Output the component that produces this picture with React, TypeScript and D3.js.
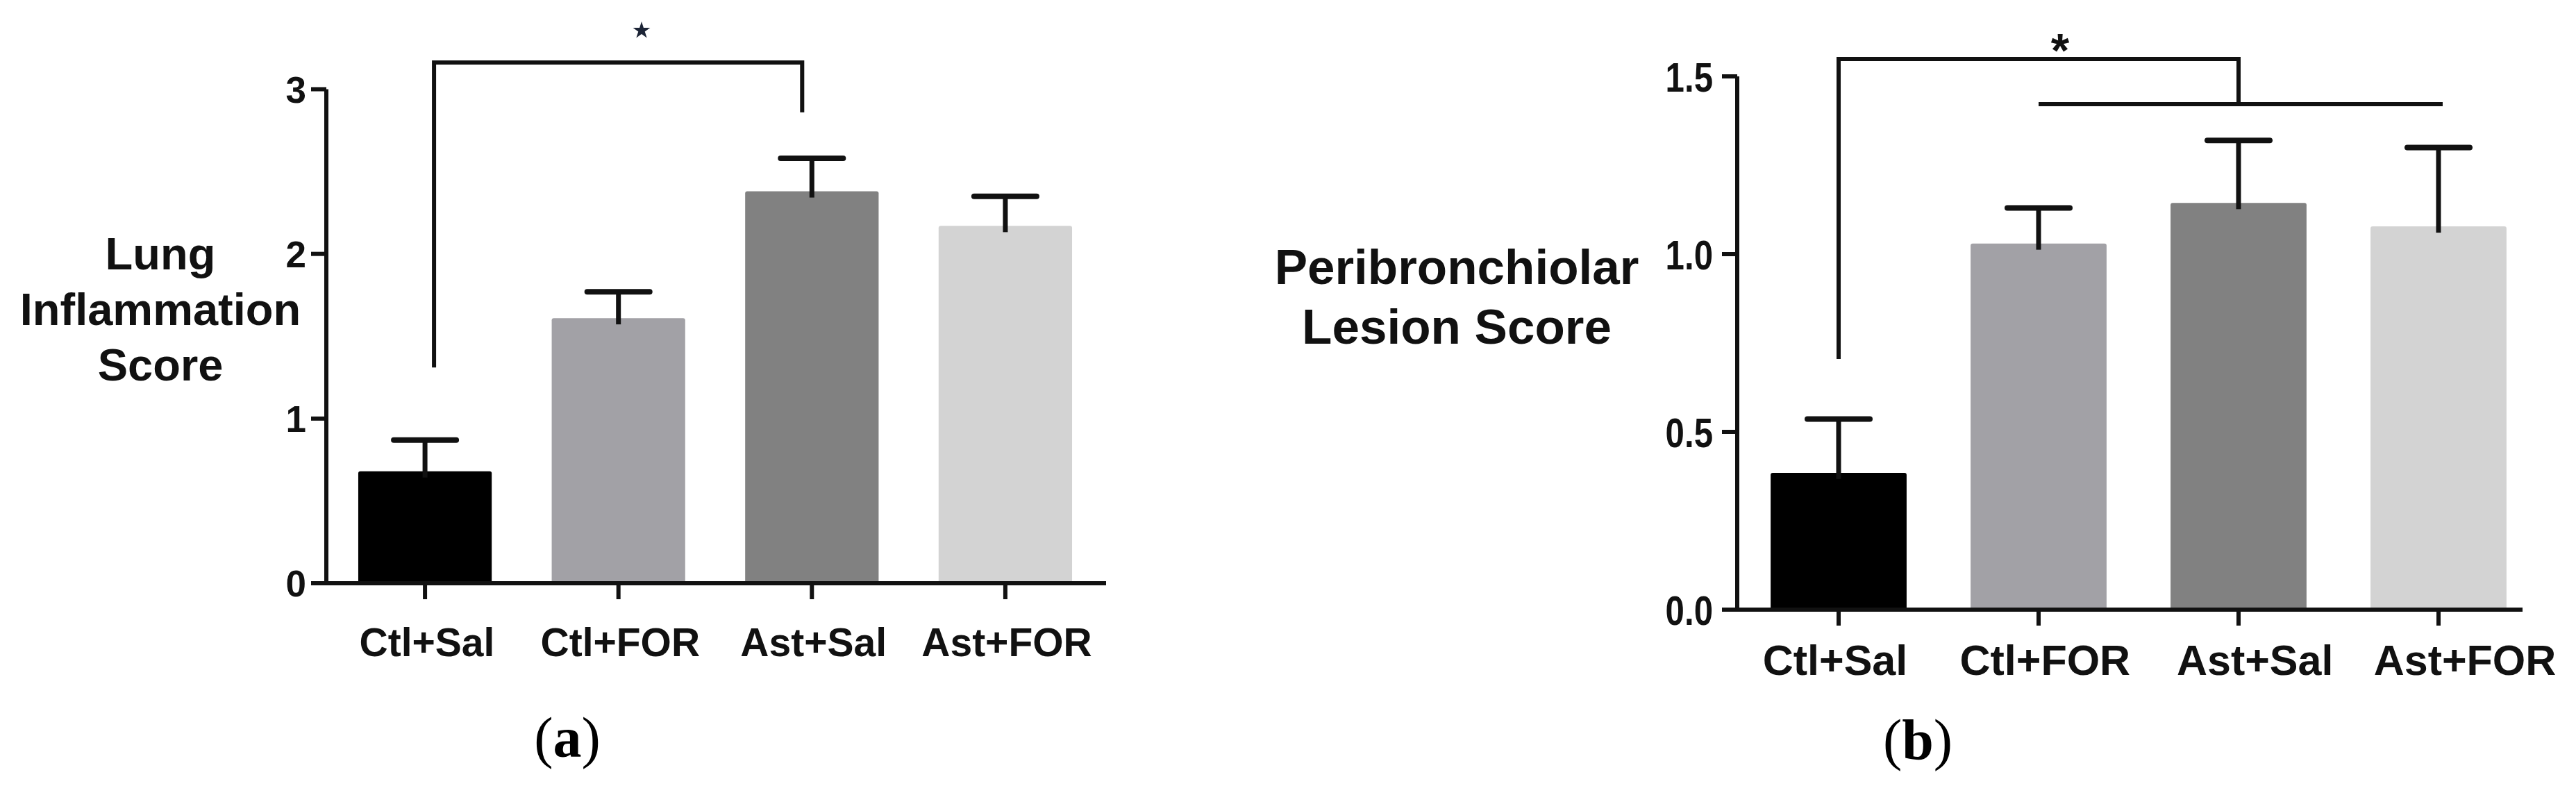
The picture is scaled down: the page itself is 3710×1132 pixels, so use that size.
import React from 'react';
import * as d3 from 'd3';

const categories = ['Ctl+Sal', 'Ctl+FOR', 'Ast+Sal', 'Ast+FOR'];
const barColors = ['#000000', '#a2a1a6', '#818181', '#d3d3d3'];

const inflammationMean = [0.68, 1.61, 2.38, 2.17];
const inflammationUpper = [0.87, 1.77, 2.58, 2.35];
const inflammationTicks = [0, 1, 2, 3];
const inflammationTickLabels = ['0', '1', '2', '3'];
const inflammationTitle = ['Lung', 'Inflammation', 'Score'];

const lesionMean = [0.385, 1.03, 1.144, 1.078];
const lesionUpper = [0.536, 1.13, 1.32, 1.3];
const lesionTicks = [0, 0.5, 1.0, 1.5];
const lesionTickLabels = ['0.0', '0.5', '1.0', '1.5'];
const lesionTitle = ['Peribronchiolar', 'Lesion Score'];

const FONT = '"Liberation Sans", Arial, Helvetica, sans-serif';
const SERIF = '"Liberation Serif", "Times New Roman", serif';
const INK = '#111111';

function Bars({ x, y, means, uppers }) {
  const bw = x.bandwidth();
  return (
    <g>
      {categories.map((c, i) => {
        const cx = x(c) + bw / 2;
        return (
          <g key={c}>
            <rect x={x(c)} y={y(means[i])} width={bw} height={y(0) - y(means[i])} fill={barColors[i]} rx={3} />
            <line x1={cx} x2={cx} y1={y(means[i]) + 9} y2={y(uppers[i])} stroke={INK} strokeWidth={7} />
            <line x1={cx - 45} x2={cx + 45} y1={y(uppers[i])} y2={y(uppers[i])} stroke={INK} strokeWidth={8} strokeLinecap="round" />
          </g>
        );
      })}
    </g>
  );
}

function Axes({ x, y, ticks, tickLabels, axisRight, tickFont, tickScaleX, tickLabelX }) {
  const x0 = x.range()[0];
  const y0 = y(0);
  const yTop = y(ticks[ticks.length - 1]);
  const bw = x.bandwidth();
  return (
    <g>
      <line x1={x0} x2={x0} y1={y0} y2={yTop} stroke={INK} strokeWidth={6} />
      <line x1={x0 - 22} x2={axisRight} y1={y0} y2={y0} stroke={INK} strokeWidth={6} />
      {ticks.map((t, i) => (
        <g key={t}>
          <line x1={x0 - 22} x2={x0} y1={y(t)} y2={y(t)} stroke={INK} strokeWidth={6} />
          <g transform={`translate(${tickLabelX},${y(t)}) scale(${tickScaleX},1)`}>
            <text x={0} y={0} dy="0.36em" textAnchor="end" fontFamily={FONT} fontWeight="bold" fontSize={tickFont} fill="#111">
              {tickLabels[i]}
            </text>
          </g>
        </g>
      ))}
      {categories.map((c) => (
        <line key={c} x1={x(c) + bw / 2} x2={x(c) + bw / 2} y1={y0} y2={y0 + 23} stroke={INK} strokeWidth={6} />
      ))}
    </g>
  );
}

export default function App() {
  // Panel (a)
  const xA = d3.scaleBand().domain(categories).range([470, 1590]).paddingInner(0.31).paddingOuter(0.165);
  const yA = d3.scaleLinear().domain([0, 3]).range([840, 128.5]);
  const labelA = d3.scalePoint().domain(categories).range([615, 1450]);

  // Panel (b)
  const xB = d3.scaleBand().domain(categories).range([2502, 3658]).paddingInner(0.32).paddingOuter(0.167);
  const yB = d3.scaleLinear().domain([0, 1.5]).range([878, 110]);
  const labelB = d3.scalePoint().domain(categories).range([2643, 3550]);

  const cA = (c) => xA(c) + xA.bandwidth() / 2;
  const cB = (c) => xB(c) + xB.bandwidth() / 2;

  const starPath = d3.symbol(d3.symbolStar, 190)();

  return (
    <svg width={3710} height={1132} style={{ position: 'absolute', left: 0, top: 0, background: '#fff' }}>
      <rect x={0} y={0} width={3710} height={1132} fill="#fff" />

      {/* ===== Panel (a) ===== */}
      <Bars x={xA} y={yA} means={inflammationMean} uppers={inflammationUpper} />
      <Axes x={xA} y={yA} ticks={inflammationTicks} tickLabels={inflammationTickLabels} axisRight={1593} tickFont={53} tickScaleX={1} tickLabelX={441} />
      {inflammationTitle.map((t, i) => (
        <text key={t} x={231} y={388 + i * 80} textAnchor="middle" fontFamily={FONT} fontWeight="bold" fontSize={65} fill="#111">
          {t}
        </text>
      ))}
      {categories.map((c) => (
        <text key={c} x={labelA(c)} y={945} textAnchor="middle" fontFamily={FONT} fontWeight="bold" fontSize={57} fill="#111">
          {c}
        </text>
      ))}
      {/* significance bracket (a) */}
      <path
        d={`M${cA(categories[0]) + 13},${yA(1.31)} V90 H${cA(categories[2]) - 14} V${yA(2.86)}`}
        fill="none"
        stroke={INK}
        strokeWidth={6}
      />
      <path d={starPath} transform="translate(924,44)" fill="#1c2436" />
      <text x={817} y={1090} textAnchor="middle" fontFamily={SERIF} fontSize={82} fill="#000">
        (<tspan fontWeight="bold">a</tspan>)
      </text>

      {/* ===== Panel (b) ===== */}
      <Bars x={xB} y={yB} means={lesionMean} uppers={lesionUpper} />
      <Axes x={xB} y={yB} ticks={lesionTicks} tickLabels={lesionTickLabels} axisRight={3633} tickFont={60} tickScaleX={0.82} tickLabelX={2467} />
      {lesionTitle.map((t, i) => (
        <text key={t} x={2098} y={409 + i * 86} textAnchor="middle" fontFamily={FONT} fontWeight="bold" fontSize={71} fill="#111">
          {t}
        </text>
      ))}
      {categories.map((c) => (
        <text key={c} x={labelB(c)} y={972} textAnchor="middle" fontFamily={FONT} fontWeight="bold" fontSize={61} fill="#111">
          {c}
        </text>
      ))}
      {/* significance bracket (b) */}
      <path
        d={`M${cB(categories[0])},${yB(0.705)} V85 H${cB(categories[2])} V150`}
        fill="none"
        stroke={INK}
        strokeWidth={6}
      />
      <path d={`M${cB(categories[1])},150 H${cB(categories[3]) + 6}`} fill="none" stroke={INK} strokeWidth={6} />
      <text x={2967} y={96} textAnchor="middle" fontFamily={FONT} fontWeight="bold" fontSize={68} fill="#111">*</text>
      <text x={2762} y={1093} textAnchor="middle" fontFamily={SERIF} fontSize={82} fill="#000">
        (<tspan fontWeight="bold">b</tspan>)
      </text>
    </svg>
  );
}
